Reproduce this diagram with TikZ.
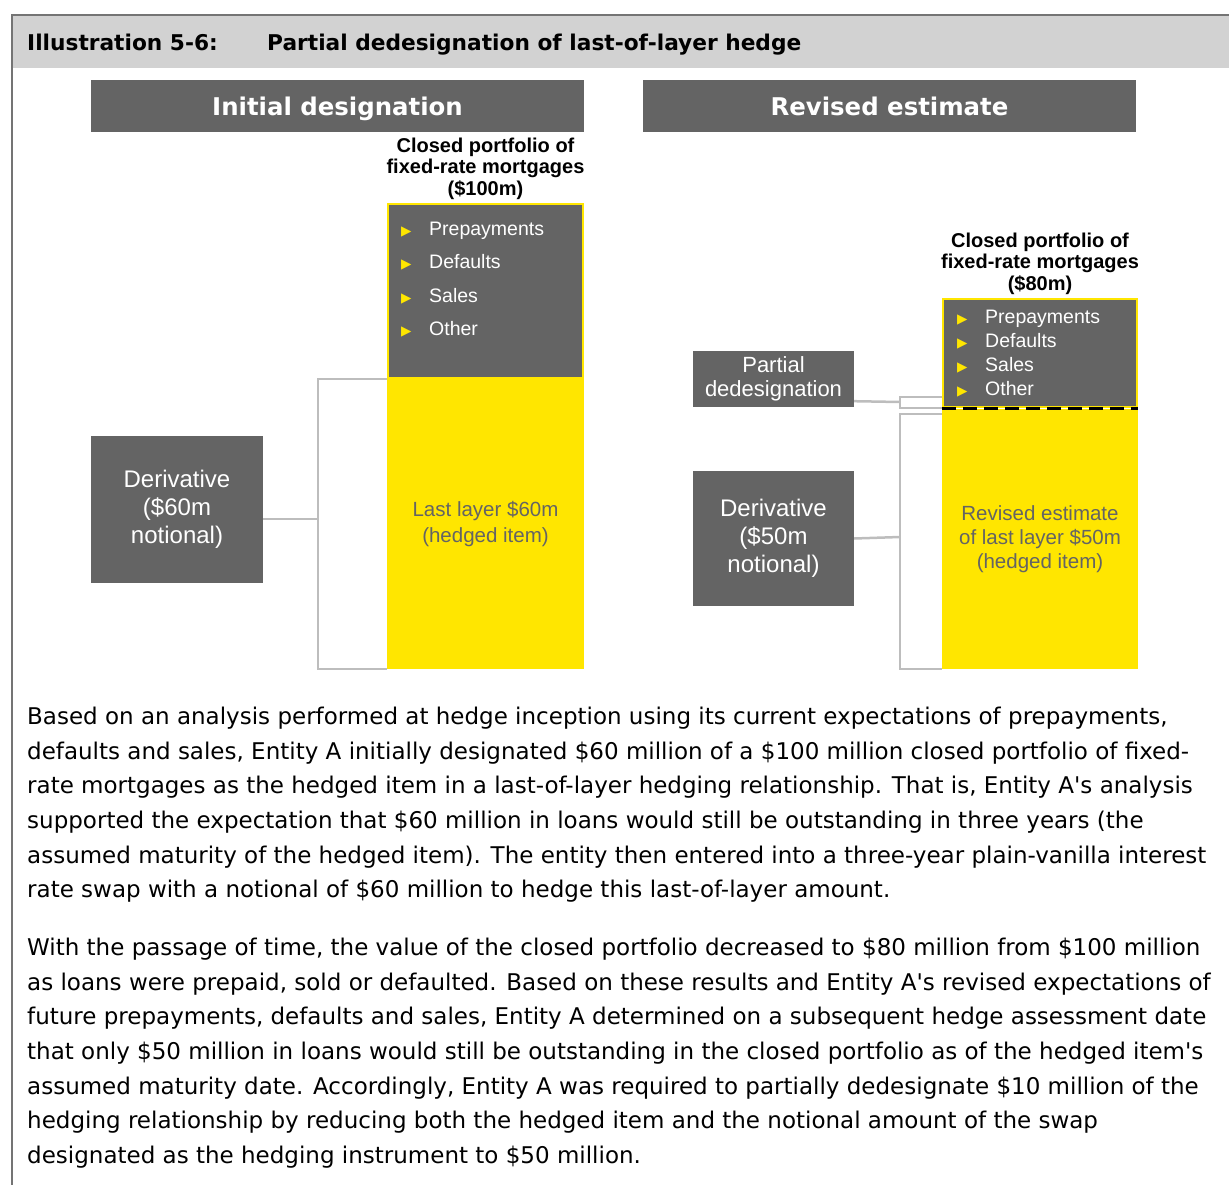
\documentclass[tikz,border=0pt]{standalone}
\usepackage{fontspec}
\setmainfont{Liberation Sans}
\newfontfamily\interfont{DejaVu Sans}
\newfontfamily\symbolfont{DejaVu Sans}
\usetikzlibrary{positioning}
\definecolor{eyyellow}{HTML}{FFE600}
\definecolor{eygray}{HTML}{646464}
\definecolor{bandgray}{HTML}{D2D2D2}
\definecolor{framegray}{HTML}{747474}
\definecolor{linkgray}{HTML}{BDBDBD}
\newcommand{\ybullet}{\makebox[28pt][l]{\textcolor{eyyellow}{\symbolfont\fontsize{13.5}{13.5}\selectfont ▶}}}
\tikzset{%
  greybox/.style={
    fill=eygray,
    text=white,
    align=center,
    inner sep=0pt
  },
  header/.style={
    greybox,
    minimum width=493pt,
    minimum height=52pt,
    text height=20pt,
    text depth=0pt,
    font=\interfont\bfseries\fontsize{24.4}{28}\selectfont
  },
  risks/.style={
    anchor=north west,
    text=white,
    align=left,
    inner sep=0pt
  },
  layer/.style={
    fill=eyyellow,
    text=eygray,
    align=center,
    inner sep=0pt
  },
}

\begin{document}
\begin{tikzpicture}[x=1pt,y=-1pt]
      \tikzstyle{caption}=[align=center,font=\bfseries\fontsize{20}{21.5}\selectfont]
      \tikzstyle{link}=[draw=linkgray,line width=2.5pt]
      \tikzstyle{bodytext}=[anchor=north west,inner sep=0pt,align=left,font=\interfont\fontsize{23}{34.6}\selectfont]
      \useasboundingbox (0,0) rectangle (1229,1185);

      % title band and frame
      \fill[bandgray] (13,16) rectangle (1229,68);
      \draw[framegray,line width=2pt] (12,1185) -- (12,15) -- (1229,15);
      \node[anchor=base west,inner sep=0pt,font=\interfont\bfseries\fontsize{21.7}{26}\selectfont] (ttl) at (27,51) {Illustration 5-6:};
      \node[anchor=base west,inner sep=0pt,font=\interfont\bfseries\fontsize{21.7}{26}\selectfont] (ttltext) at (267,51) {Partial dedesignation of last-of-layer hedge};

      % initial designation
      \node[header] (hinit) at (337.5,106) {Initial designation};
      \node[greybox,draw=eyyellow,line width=2pt,minimum width=195pt,minimum height=174pt] (lrisk) at (485.5,291) {};
      \node[layer,minimum width=197pt,minimum height=290pt,font=\fontsize{20.5}{26}\selectfont] (lyel) at (485.5,524) {Last layer \$60m\\(hedged item)};
      \node[caption,above=0pt of lrisk] (lcap) {Closed portfolio of\\fixed-rate mortgages\\(\$100m)};
      \node[risks,font=\fontsize{19.5}{33.3}\selectfont] (llist) at (401,222)
        {\ybullet Prepayments\\\ybullet Defaults\\\ybullet Sales\\\ybullet Other};
      \node[greybox,minimum width=172pt,minimum height=147pt,font=\fontsize{24}{28}\selectfont] (lder) at (177,509.5) {Derivative\\(\$60m\\notional)};

      \coordinate (ljoin) at (318,519);
      \draw[link] (lyel.north west) -| (ljoin) |- (lyel.south west);
      \draw[link] ([yshift=-9.5pt]lder.east) -- (ljoin);

      % revised estimate
      \node[header] (hrev) at (889.5,106) {Revised estimate};
      \node[greybox,draw=eyyellow,line width=2pt,minimum width=194pt,minimum height=108pt] (rrisk) at (1040,353) {};
      \node[layer,minimum width=196pt,minimum height=260pt,font=\fontsize{20.5}{24}\selectfont] (ryel) at (1040,539) {Revised estimate\\of last layer \$50m\\(hedged item)};
      \draw[black,line width=3pt,dash pattern=on 14pt off 7pt] (rrisk.south west) -- (rrisk.south east);
      \node[caption,above=0pt of rrisk] (rcap) {Closed portfolio of\\fixed-rate mortgages\\(\$80m)};
      \node[risks,font=\fontsize{19.5}{24}\selectfont] (rlist) at (957,310)
        {\ybullet Prepayments\\\ybullet Defaults\\\ybullet Sales\\\ybullet Other};
      \node[greybox,minimum width=161pt,minimum height=56pt,font=\fontsize{22}{24}\selectfont] (rpart) at (773.5,379) {Partial\\dedesignation};
      \node[greybox,minimum width=161pt,minimum height=135pt,font=\fontsize{24}{28}\selectfont] (rder) at (773.5,538.5) {Derivative\\(\$50m\\notional)};

      \coordinate (rpd) at (900,402);
      \coordinate (rjoin) at (900,537);
      \draw[link] ([yshift=11pt]rrisk.south west) -| (rpd) |- (rrisk.south west);
      \draw[link] ([yshift=6pt]rpart.south east) -- (rpd);
      \draw[link] ([yshift=-5pt]ryel.north west) -| (rjoin) |- (ryel.south west);
      \draw[link] (rder.east) -- (rjoin);

      % explanation
      \node[bodytext] (para1) at (27,707) {Based on an analysis performed at hedge inception using its current expectations of prepayments,\\
        defaults and sales, Entity A initially designated \$60 million of a \$100 million closed portfolio of fixed-\\
        rate mortgages as the hedged item in a last-of-layer hedging relationship. That is, Entity A's analysis\\
        supported the expectation that \$60 million in loans would still be outstanding in three years (the\\
        assumed maturity of the hedged item). The entity then entered into a three-year plain-vanilla interest\\
        rate swap with a notional of \$60 million to hedge this last-of-layer amount.};
      \node[bodytext] (para2) at (27,938) {With the passage of time, the value of the closed portfolio decreased to \$80 million from \$100 million\\
        as loans were prepaid, sold or defaulted. Based on these results and Entity A's revised expectations of\\
        future prepayments, defaults and sales, Entity A determined on a subsequent hedge assessment date\\
        that only \$50 million in loans would still be outstanding in the closed portfolio as of the hedged item's\\
        assumed maturity date. Accordingly, Entity A was required to partially dedesignate \$10 million of the\\
        hedging relationship by reducing both the hedged item and the notional amount of the swap\\
        designated as the hedging instrument to \$50 million.};
\end{tikzpicture}
\end{document}
